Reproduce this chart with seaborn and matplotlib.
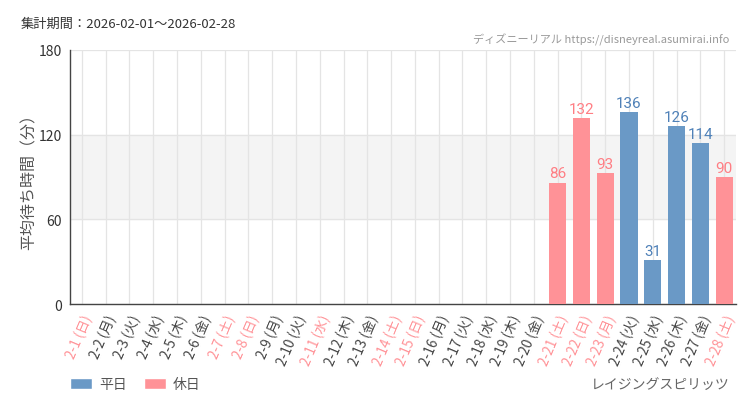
import matplotlib
matplotlib.use("Agg")
import matplotlib.pyplot as plt
from matplotlib.patches import Patch
import seaborn as sns
import pandas as pd

days = list(range(1, 29))
weekdays = ["日", "月", "火", "水", "木", "金", "土"]
holiday_days = [11, 23]
values = [0, 0, 0, 0, 0, 0, 0, 0, 0, 0, 0, 0, 0, 0, 0, 0, 0, 0, 0, 0,
          86, 132, 93, 136, 31, 126, 114, 90]

labels = []
kinds = []
for d in days:
    wd = weekdays[(d - 1) % 7]
    labels.append(f"2-{d} ({wd})")
    if wd in ("土", "日") or d in holiday_days:
        kinds.append("休日")
    else:
        kinds.append("平日")

df = pd.DataFrame({"label": labels, "value": values, "kind": kinds})

sns.set_theme(style="white")
plt.rcParams['font.family'] = ['Noto Sans CJK JP', 'DejaVu Sans']
NUMFONT = ["Roboto", "DejaVu Sans"]

BLUE = "#6a99c6"
PINK = "#ff9297"
BLUE_T = "#4f81b8"
PINK_T = "#ff7e84"
palette = {"平日": BLUE, "休日": PINK}
tcol = {"平日": BLUE_T, "休日": PINK_T}

fig = plt.figure(figsize=(7.5, 4.1), dpi=100)
fig.patch.set_facecolor("white")
ax = fig.add_axes([0.0933, 0.256, 0.888, 0.62])

ax.axhspan(60, 120, color="#f4f4f4", zorder=0)
sns.barplot(data=df, x="label", y="value", hue="kind", palette=palette,
            dodge=False, width=0.72, legend=False, ax=ax, zorder=3,
            order=labels, saturation=1, linewidth=0, edgecolor="none")

ax.set_ylim(0, 180)
ax.set_xlim(-0.5, len(labels) - 0.5)
ax.set_yticks([0, 60, 120, 180])
ax.set_xticks(range(len(labels)))
ax.grid(axis="both", color="#e4e4e4", linewidth=0.9, zorder=1)
ax.set_axisbelow(True)
for s in ["top", "right"]:
    ax.spines[s].set_visible(False)
for s in ["left", "bottom"]:
    ax.spines[s].set_color("#444444")
    ax.spines[s].set_linewidth(1.0)
ax.tick_params(axis="both", direction="out", length=4, width=1, color="#333333",
               labelsize=9.8, labelcolor="#333333", pad=2)
ax.tick_params(axis="y", labelsize=10, labelcolor="#333333")
ax.set_xticklabels(labels, rotation=67, ha="right", va="top", rotation_mode="anchor")
for t, k in zip(ax.get_xticklabels(), kinds):
    t.set_color(PINK if k == "休日" else "#444444")
ax.set_xlabel("")
ax.set_ylabel("平均待ち時間（分）", fontsize=11.5, color="#555555")
ax.yaxis.set_label_coords(-0.048, 0.5)

for i, (v, k) in enumerate(zip(values, kinds)):
    if v > 0:
        ax.text(i, v + 1.5, str(v), ha="center", va="bottom", fontsize=11,
                color=tcol[k], zorder=4, family=NUMFONT)

fig.text(0.027, 0.94, "集計期間：2026-02-01～2026-02-28", fontsize=9.5,
         color="#333333", va="center", ha="left")
fig.text(0.973, 0.902, "ディズニーリアル https://disneyreal.asumirai.info", fontsize=8,
         color="#999999", va="center", ha="right")
fig.text(0.973, 0.06, "レイジングスピリッツ", fontsize=10, color="#666666",
         va="center", ha="right")

handles = [Patch(facecolor=BLUE, label="平日"), Patch(facecolor=PINK, label="休日")]
fig.legend(handles=handles, loc="center left", bbox_to_anchor=(0.077, 0.06),
           ncol=2, frameon=False, fontsize=10, handlelength=1.6, handleheight=0.9,
           columnspacing=1.2, handletextpad=0.5, labelcolor="#555555")

fig.savefig("out.png", dpi=100, facecolor="white")
